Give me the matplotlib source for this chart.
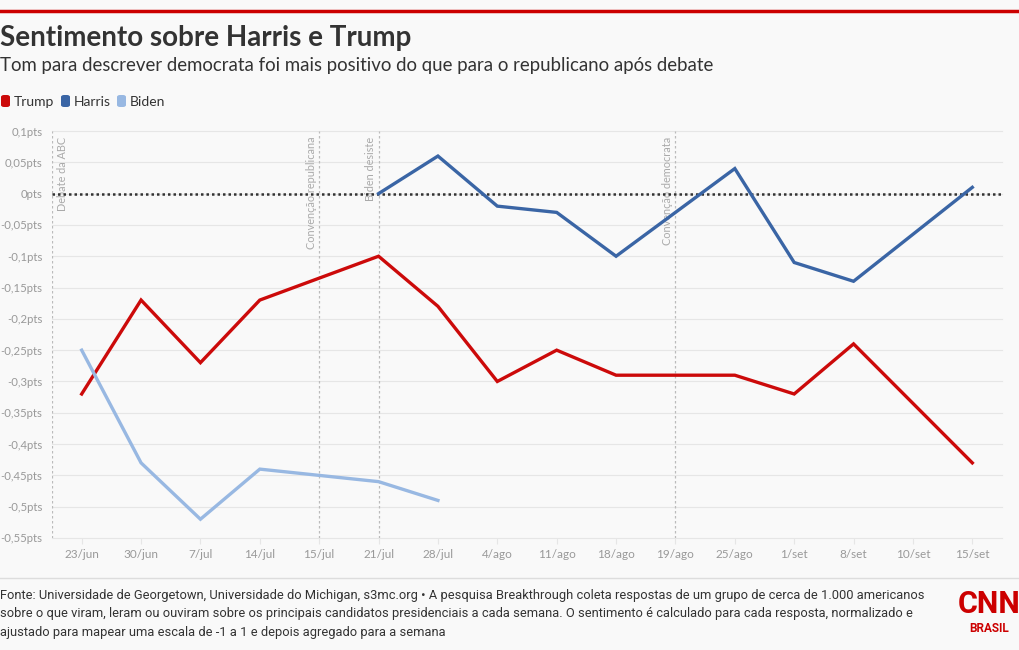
import matplotlib
matplotlib.use("Agg")
import matplotlib.pyplot as plt
from matplotlib.patches import FancyBboxPatch
from matplotlib.lines import Line2D
import numpy as np

categories = ["23/jun", "30/jun", "7/jul", "14/jul", "15/jul", "21/jul", "28/jul", "4/ago",
              "11/ago", "18/ago", "19/ago", "25/ago", "1/set", "8/set", "10/set", "15/set"]
trump = [-0.32, -0.17, -0.27, -0.17, None, -0.10, -0.18, -0.30,
         -0.25, -0.29, None, -0.29, -0.32, -0.24, None, -0.43]
harris = [None, None, None, None, None, 0.00, 0.06, -0.02,
          -0.03, -0.10, None, 0.04, -0.11, -0.14, None, 0.01]
biden = [-0.25, -0.43, -0.52, -0.44, None, -0.46, -0.49, None,
         None, None, None, None, None, None, None, None]
y_ticks = [0.1, 0.05, 0, -0.05, -0.1, -0.15, -0.2, -0.25, -0.3, -0.35, -0.4, -0.45, -0.5, -0.55]
y_labels = ["0,1pts", "0,05pts", "0pts", "-0,05pts", "-0,1pts", "-0,15pts", "-0,2pts",
            "-0,25pts", "-0,3pts", "-0,35pts", "-0,4pts", "-0,45pts", "-0,5pts", "-0,55pts"]
events = [("Debate da ABC", -0.5), ("Convenção republicana", 4), ("Biden desiste", 5),
          ("Convenção democrata", 10)]
series = [("Trump", trump, "#cc0a0a"), ("Harris", harris, "#3a65a5"), ("Biden", biden, "#98b8e2")]

W, H = 1020, 650
BG = "#f9f9f9"
FONT = ["Lato", "DejaVu Sans"]
plt.rcParams["font.family"] = FONT

fig = plt.figure(figsize=(W / 100, H / 100), dpi=100, facecolor=BG)

def fx(px):
    return px / W

def fy(py):
    return 1 - py / H

# top red bar
fig.add_artist(Line2D([0, 1], [fy(11), fy(11)], color="#cc0000", lw=2.5))

fig.text(fx(0), fy(38), "Sentimento sobre Harris e Trump", fontsize=20, fontweight="bold",
         color="#333333", va="center", ha="left")
fig.text(fx(0), fy(66), "Tom para descrever democrata foi mais positivo do que para o republicano após debate",
         fontsize=13.4, color="#333333", va="center", ha="left")

# legend
lx = 0
for name, _, col in series:
    fig.add_artist(FancyBboxPatch((fx(lx + 1), fy(107)), fx(9), 12 / H,
                                  boxstyle="round,pad=0,rounding_size=0.003",
                                  transform=fig.transFigure, facecolor=col, edgecolor="none"))
    fig.text(fx(lx + 14), fy(101.5), name, fontsize=10, color="#333333", va="center", ha="left")
    lx += {"Trump": 60, "Harris": 56, "Biden": 60}[name]

ax = fig.add_axes([fx(52), fy(538), fx(1002 - 52), (538 - 131) / H])
ax.set_facecolor(BG)
x = np.arange(len(categories))
ax.set_xlim(-0.5, len(categories) - 0.5)
ax.set_ylim(-0.55, 0.1)

for yt in y_ticks:
    ax.axhline(yt, color="#e6e6e6", lw=0.8, zorder=0, clip_on=False)

ax.axhline(0, color="#333333", lw=1.8, ls=(0, (1, 1.2)), zorder=2)

for label, pos in events:
    ax.axvline(pos, color="#bbbbbb", lw=0.9, ls=(0, (2, 2)), zorder=1)
    if pos < 0:
        ax.text(pos + 0.08, 0.091, label, rotation=90, ha="left", va="top", fontsize=7.8,
                color="#aaaaaa", zorder=1)
    else:
        ax.text(pos - 0.04, 0.091, label, rotation=90, ha="right", va="top", fontsize=7.8,
                color="#aaaaaa", zorder=1)

for name, vals, col in series:
    xs = [i for i, v in enumerate(vals) if v is not None]
    ys = [v for v in vals if v is not None]
    ax.plot(xs, ys, color=col, lw=2.4, zorder=3, solid_joinstyle="miter")

ax.set_xticks(x)
ax.set_xticklabels(categories)
ax.set_yticks(y_ticks)
ax.set_yticklabels(y_labels)
ax.tick_params(axis="x", length=4, color="#e6e6e6", labelcolor="#999999", labelsize=8.5, pad=4)
ax.tick_params(axis="y", length=0, labelcolor="#999999", labelsize=8.2, pad=7)
for s in ax.spines.values():
    s.set_visible(False)

# footer
fig.add_artist(Line2D([0, 1], [fy(578), fy(578)], color="#dddddd", lw=1))
footer = ("Fonte: Universidade de Georgetown, Universidade do Michigan, s3mc.org • A pesquisa Breakthrough coleta respostas de um grupo de cerca de 1.000 americanos\n"
          "sobre o que viram, leram ou ouviram sobre os principais candidatos presidenciais a cada semana. O sentimento é calculado para cada resposta, normalizado e\n"
          "ajustado para mapear uma escala de -1 a 1 e depois agregado para a semana")
fig.text(fx(0), fy(589), footer, fontsize=9.3, color="#333333", va="top", ha="left",
         linespacing=1.55, family=["Liberation Sans Narrow", "Roboto", "DejaVu Sans"])

fig.text(fx(989), fy(604), "CNN", fontsize=22, fontweight="bold", color="#cc0000",
         ha="center", va="center", family=["Roboto", "DejaVu Sans"])
fig.text(fx(989), fy(628), "BRASIL", fontsize=8.5, fontweight="bold", color="#cc0000",
         ha="center", va="center", family=["Roboto", "DejaVu Sans"])

fig.savefig("out.png", dpi=100, facecolor=BG)
